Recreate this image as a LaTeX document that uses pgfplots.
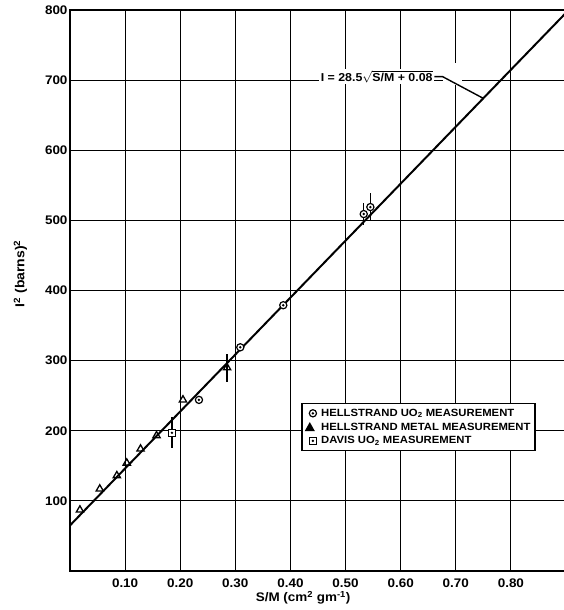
\documentclass[border=0pt]{standalone}
\usepackage{fontspec}
\setmainfont{Liberation Sans}[FakeStretch=1.08]
\usepackage{pgfplots}
\usepackage{pgfplotstable}
\pgfplotsset{compat=1.18}

% circle / square with a dot in the middle
\pgfdeclareplotmark{cdot}{%
  \pgfpathcircle{\pgfpointorigin}{\pgfplotmarksize}\pgfusepathqfillstroke
  \pgfscope\pgfsetfillcolor{black}%
  \pgfpathcircle{\pgfpointorigin}{0.38\pgfplotmarksize}\pgfusepathqfill
  \endpgfscope}
\pgfdeclareplotmark{sdot}{%
  \pgfpathrectangle{\pgfpoint{-\pgfplotmarksize}{-\pgfplotmarksize}}%
    {\pgfpoint{2\pgfplotmarksize}{2\pgfplotmarksize}}\pgfusepathqfillstroke
  \pgfscope\pgfsetfillcolor{black}%
  \pgfpathcircle{\pgfpointorigin}{0.38\pgfplotmarksize}\pgfusepathqfill
  \endpgfscope}

% Hellstrand UO2
\pgfplotstableread{
x     y   err
0.234 244 0
0.309 319 0
0.387 379 0
0.533 509 16
0.545 519 20
}\huo

% Hellstrand metal
\pgfplotstableread{
x     y   err
0.018 87  0
0.054 117 0
0.085 136 0
0.103 154 0
0.128 174 0
0.157 193 0
0.205 244 0
0.285 290 20
}\hmetal

% Davis UO2
\pgfplotstableread{
x     y   err
0.185 197 22
}\davis

\begin{document}
\begin{tikzpicture}
\begin{axis}[
  at={(0,0)}, anchor=south west,
  scale only axis, width=496bp, height=561bp,
  xmin=0, xmax=0.9, ymin=0, ymax=800,
  xtick={0.1,0.2,0.3,0.4,0.5,0.6,0.7,0.8},
  xticklabels={0.10,0.20,0.30,0.40,0.50,0.60,0.70,0.80},
  ytick={100,200,300,400,500,600,700,800},
  yticklabels={100,200,300,400,500,600,700,800},
  grid=major,
  grid style={black, line width=1.1bp},
  axis line style={line width=1.9bp},
  major tick length=0pt,
  tick label style={font=\fontsize{12.5}{14}\bfseries},
  xticklabel style={yshift=-4bp},
  yticklabel style={xshift=1bp},
  xlabel={S/M (cm\textsuperscript{2} gm\textsuperscript{-1})},
  xlabel style={at={(axis description cs:0.47,-0.048)}, anchor=center,
    font=\fontsize{12.5}{14}\bfseries},
  ylabel={I\textsuperscript{2} (barns)\textsuperscript{2}},
  ylabel style={at={(axis description cs:-0.1,0.53)}, anchor=center,
    font=\fontsize{13}{15}\bfseries},
  legend style={at={(axis cs:0.42,240)}, anchor=north west,
    draw=black, line width=1.4bp, fill=white,
    font=\fontsize{10.5}{12}\bfseries,
    inner xsep=3bp, inner ysep=4bp, row sep=2bp,
    nodes={inner sep=1.5bp}},
  legend cell align=left,
]

\addplot[line width=2bp, forget plot] coordinates {(0,65) (0.9,796)};

\addplot[only marks, mark=cdot, mark size=3.6bp, line width=1.2bp,
  fill=white, draw=black,
  error bars/.cd, y dir=both, y explicit, error mark=none,
  error bar style={line width=1.5bp}]
  table[x=x, y=y, y error=err] {\huo};
\addlegendentry{\ HELLSTRAND UO\textsubscript{2} MEASUREMENT}

\addplot[only marks, mark=triangle, mark size=4.2bp, line width=1.3bp,
  draw=black,
  legend image code/.code={\fill[black] (0.05cm,-0.12cm) -- (0.33cm,-0.12cm) -- (0.19cm,0.13cm) -- cycle;},
  error bars/.cd, y dir=both, y explicit, error mark=none,
  error bar style={line width=1.5bp}]
  table[x=x, y=y, y error=err] {\hmetal};
\addlegendentry{\ HELLSTRAND METAL MEASUREMENT}

\addplot[only marks, mark=sdot, mark size=3.5bp, line width=1.2bp,
  fill=white, draw=black,
  error bars/.cd, y dir=both, y explicit, error mark=none,
  error bar style={line width=1.5bp}]
  table[x=x, y=y, y error=err] {\davis};
\addlegendentry{\ DAVIS UO\textsubscript{2} MEASUREMENT}

% equation label with leader
\fill[white] (axis cs:0.676,693) rectangle (axis cs:0.712,724);
\node[fill=white, inner sep=1.5bp, anchor=east, font=\fontsize{11.5}{13}\bfseries]
  at (axis cs:0.661,705) {I = 28.5$\sqrt{\mbox{S/M + 0.08}}$};
\draw[line width=1.4bp] (axis cs:0.661,705) -- (axis cs:0.676,705) -- (axis cs:0.75,674);
\end{axis}
\pgfresetboundingbox
\path[use as bounding box] (-70bp,-39bp) rectangle (494bp,571bp);
\end{tikzpicture}
\end{document}
